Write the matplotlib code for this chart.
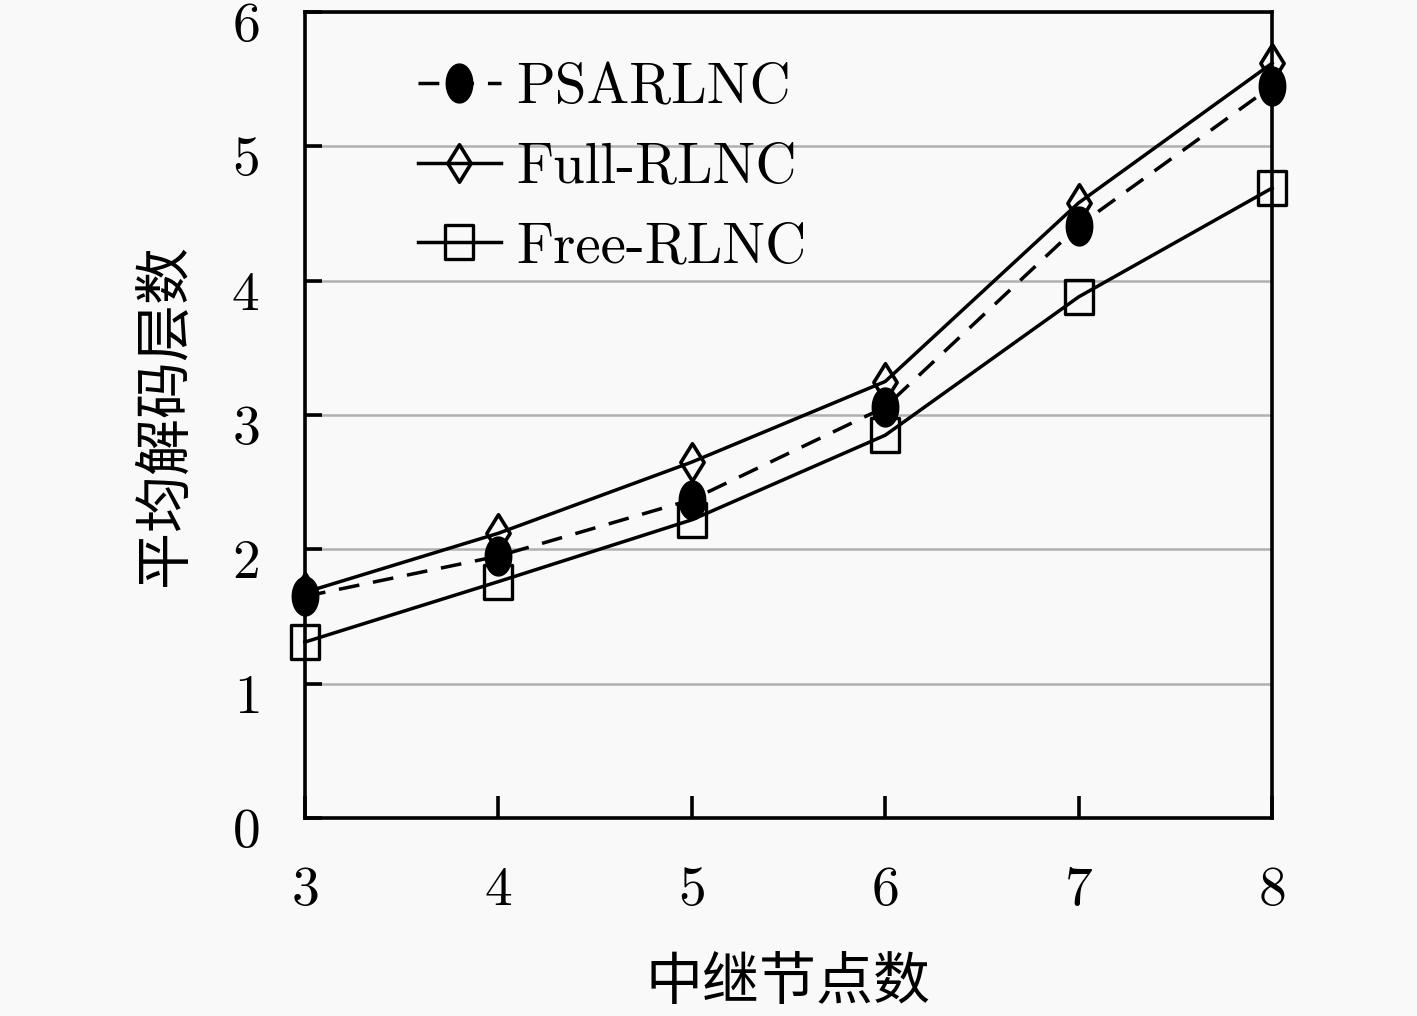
import matplotlib.pyplot as plt
import matplotlib.transforms as mtransforms
from matplotlib.path import Path
import numpy as np

plt.rcParams['font.family'] = ['cmr10', 'Noto Sans CJK SC', 'DejaVu Sans']
plt.rcParams['axes.formatter.use_mathtext'] = True
plt.rcParams['mathtext.fontset'] = 'cm'

relays = [3, 4, 5, 6, 7, 8]
psarlnc = [1.65, 1.95, 2.37, 3.06, 4.41, 5.45]
full_rlnc = [1.68, 2.12, 2.65, 3.25, 4.58, 5.62]
free_rlnc = [1.31, 1.76, 2.22, 2.85, 3.88, 4.69]

cn_font = ['Noto Sans CJK SC']

# markers in the original are a bit stretched vertically
t = np.linspace(0, 2 * np.pi, 60)
ellipse = Path(np.column_stack([0.68 * np.cos(t), np.sin(t)]), closed=True)
tall_diamond = Path([(0, 1), (0.62, 0), (0, -1), (-0.62, 0), (0, 1)], closed=True)
tall_square = Path([(-0.8, -1), (0.8, -1), (0.8, 1), (-0.8, 1), (-0.8, -1)], closed=True)

fig = plt.figure(figsize=(14.17, 10.16), dpi=100)
fig.patch.set_facecolor('#f9f9f9')
ax = fig.add_axes([0.2152, 0.1949, 0.6825, 0.7931])
ax.set_facecolor('#f9f9f9')

lw = 2.5
ax.plot(relays, psarlnc, color='black', lw=lw, dashes=(6, 4), marker=ellipse,
        markersize=28, markerfacecolor='black', markeredgecolor='black',
        label='PSARLNC', clip_on=False, zorder=3)
ax.plot(relays, full_rlnc, color='black', lw=lw, marker=tall_diamond,
        markersize=27, markerfacecolor='none', markeredgewidth=2.6,
        label='Full-RLNC', clip_on=False, zorder=4)
ax.plot(relays, free_rlnc, color='black', lw=lw, marker=tall_square,
        markersize=25, markerfacecolor='none', markeredgewidth=2.4,
        label='Free-RLNC', clip_on=False, zorder=4)

ax.set_xlim(3, 8)
ax.set_ylim(0, 6)
ax.set_xticks(relays)
ax.set_yticks(range(0, 7))
ax.yaxis.grid(True, color='#b0b0b0', lw=1.8)
ax.set_axisbelow(True)

for s in ax.spines.values():
    s.set_linewidth(2.6)

ax.tick_params(axis='both', direction='in', labelsize=40, width=2.6,
               top=False, right=False)
ax.tick_params(axis='y', length=12, pad=33)
ax.tick_params(axis='x', length=16, pad=35)

# y tick labels sit slightly below their ticks in the original
shift = mtransforms.ScaledTranslation(0, -7 / 72, fig.dpi_scale_trans)
for lab in ax.get_yticklabels():
    lab.set_transform(lab.get_transform() + shift)

ax.set_xlabel('中继节点数', fontsize=41, family=cn_font, labelpad=27)
ax.set_ylabel('平均解码层数', fontsize=41, family=cn_font, labelpad=27)

ax.legend(loc='upper left', bbox_to_anchor=(0.117, 0.937), frameon=False,
          fontsize=41, handlelength=1.45, handletextpad=0.28,
          labelspacing=0.5, borderaxespad=0, borderpad=0)

fig.savefig('out.png', dpi=100, facecolor=fig.get_facecolor())
